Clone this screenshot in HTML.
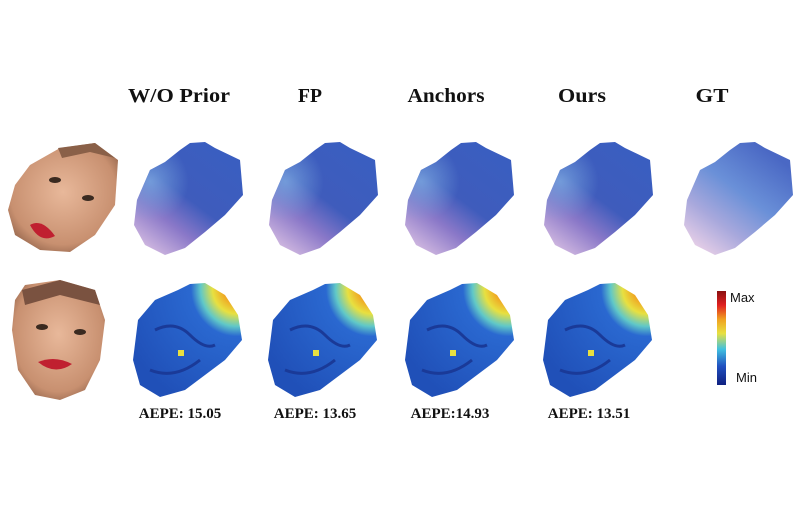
<!DOCTYPE html>
<html><head><meta charset="utf-8"><style>
html,body{margin:0;padding:0;background:#fff;}
svg{display:block;}
text{font-family:"Liberation Serif",serif;font-weight:bold;fill:#111;}
</style></head><body>
<svg width="795" height="530" viewBox="0 0 795 530">
<defs>
  <linearGradient id="flowA" x1="0.15" y1="1" x2="0.8" y2="0.1">
    <stop offset="0" stop-color="#d6bde2"/>
    <stop offset="0.3" stop-color="#8a78c8"/>
    <stop offset="0.55" stop-color="#3f5cbc"/>
    <stop offset="1" stop-color="#3a5ec0"/>
  </linearGradient>
  <radialGradient id="flowHi" cx="0.15" cy="0.35" r="0.35">
    <stop offset="0" stop-color="#7aa8e0" stop-opacity="0.8"/>
    <stop offset="1" stop-color="#7aa8e0" stop-opacity="0"/>
  </radialGradient>
  <linearGradient id="flowGT" x1="0.15" y1="1" x2="0.8" y2="0.1">
    <stop offset="0" stop-color="#ecd2e8"/>
    <stop offset="0.3" stop-color="#a8a8dc"/>
    <stop offset="0.6" stop-color="#6a90d8"/>
    <stop offset="1" stop-color="#4a68c4"/>
  </linearGradient>
  <radialGradient id="errG" cx="0.95" cy="0.05" r="1.1">
    <stop offset="0" stop-color="#e04020"/>
    <stop offset="0.1" stop-color="#f0a020"/>
    <stop offset="0.2" stop-color="#e8e040"/>
    <stop offset="0.3" stop-color="#60c8c8"/>
    <stop offset="0.38" stop-color="#2a68d0"/>
    <stop offset="1" stop-color="#2050b8"/>
  </radialGradient>
  <linearGradient id="cbar" x1="0" y1="0" x2="0" y2="1">
    <stop offset="0" stop-color="#8a1010"/>
    <stop offset="0.15" stop-color="#e02020"/>
    <stop offset="0.3" stop-color="#f0a020"/>
    <stop offset="0.45" stop-color="#e8e040"/>
    <stop offset="0.62" stop-color="#40c0e0"/>
    <stop offset="0.8" stop-color="#2050c0"/>
    <stop offset="1" stop-color="#102080"/>
  </linearGradient>
  <radialGradient id="skin" cx="0.5" cy="0.45" r="0.6">
    <stop offset="0" stop-color="#e8b89a"/>
    <stop offset="0.8" stop-color="#c89070"/>
    <stop offset="1" stop-color="#9a6a50"/>
  </radialGradient>
  <path id="flowShape" d="M180,150 L190,143 L205,142 L215,148 L240,160 L243,195 L225,215 L205,232 L185,248 L165,255 L145,245 L134,225 L137,200 L150,170 L165,162 Z"/>
  <path id="errShape" d="M178,290 L190,284 L205,283 L225,295 L238,315 L242,340 L225,360 L205,375 L185,390 L160,397 L140,385 L133,360 L138,320 L155,300 Z"/>
</defs>

<g font-size="20">
  <text x="179" y="102" text-anchor="middle" textLength="102" lengthAdjust="spacingAndGlyphs">W/O Prior</text>
  <text x="310" y="102" text-anchor="middle" textLength="24" lengthAdjust="spacingAndGlyphs">FP</text>
  <text x="446" y="102" text-anchor="middle" textLength="77" lengthAdjust="spacingAndGlyphs">Anchors</text>
  <text x="582" y="102" text-anchor="middle" textLength="48" lengthAdjust="spacingAndGlyphs">Ours</text>
  <text x="712" y="102" text-anchor="middle" textLength="33" lengthAdjust="spacingAndGlyphs">GT</text>
</g>

<g>
  <path d="M30,165 L60,148 L95,143 L118,160 L115,205 L95,235 L70,252 L40,250 L15,235 L8,210 L15,185 Z" fill="url(#skin)"/>
  <path d="M58,148 L95,143 L115,158 L90,152 L62,158 Z" fill="#8a6048"/>
  <ellipse cx="55" cy="180" rx="6" ry="3" fill="#3a2a20"/>
  <ellipse cx="88" cy="198" rx="6" ry="3" fill="#3a2a20"/>
  <path d="M30,225 Q42,218 55,236 Q40,244 30,225 Z" fill="#c02030"/>
</g>
<g>
  <path d="M25,285 L60,280 L95,290 L105,320 L100,360 L85,390 L60,400 L35,395 L18,370 L12,330 L15,300 Z" fill="url(#skin)"/>
  <path d="M22,290 L60,280 L95,290 L100,305 L60,295 L25,305 Z" fill="#7a5240"/>
  <ellipse cx="42" cy="327" rx="6" ry="3" fill="#3a2a20"/>
  <ellipse cx="80" cy="332" rx="6" ry="3" fill="#3a2a20"/>
  <path d="M38,362 Q55,355 72,364 Q55,376 38,362 Z" fill="#c02030"/>
</g>

<g>
  <g><use href="#flowShape" fill="url(#flowA)"/><use href="#flowShape" fill="url(#flowHi)"/></g>
  <g transform="translate(135,0)"><use href="#flowShape" fill="url(#flowA)"/><use href="#flowShape" fill="url(#flowHi)"/></g>
  <g transform="translate(271,0)"><use href="#flowShape" fill="url(#flowA)"/><use href="#flowShape" fill="url(#flowHi)"/></g>
  <g transform="translate(410,0)"><use href="#flowShape" fill="url(#flowA)"/><use href="#flowShape" fill="url(#flowHi)"/></g>
  <use href="#flowShape" transform="translate(550,0)" fill="url(#flowGT)"/>
</g>

<g>
  <g><use href="#errShape" fill="url(#errG)"/><path d="M155,330 Q175,320 190,335 Q205,350 215,345 M150,370 Q175,380 200,360" stroke="#1a3a98" stroke-width="3" fill="none"/><rect x="178" y="350" width="6" height="6" fill="#e8e040"/></g>
  <g transform="translate(135,0)"><use href="#errShape" fill="url(#errG)"/><path d="M155,330 Q175,320 190,335 Q205,350 215,345 M150,370 Q175,380 200,360" stroke="#1a3a98" stroke-width="3" fill="none"/><rect x="178" y="350" width="6" height="6" fill="#e8e040"/></g>
  <g transform="translate(272,0)"><use href="#errShape" fill="url(#errG)"/><path d="M155,330 Q175,320 190,335 Q205,350 215,345 M150,370 Q175,380 200,360" stroke="#1a3a98" stroke-width="3" fill="none"/><rect x="178" y="350" width="6" height="6" fill="#e8e040"/></g>
  <g transform="translate(410,0)"><use href="#errShape" fill="url(#errG)"/><path d="M155,330 Q175,320 190,335 Q205,350 215,345 M150,370 Q175,380 200,360" stroke="#1a3a98" stroke-width="3" fill="none"/><rect x="178" y="350" width="6" height="6" fill="#e8e040"/></g>
</g>

<g>
  <rect x="717" y="291" width="9" height="94" fill="url(#cbar)"/>
  <text x="730" y="302" font-size="13" style="font-family:'Liberation Sans',sans-serif;font-weight:normal">Max</text>
  <text x="736" y="382" font-size="13" style="font-family:'Liberation Sans',sans-serif;font-weight:normal">Min</text>
</g>

<g id="aepe" font-size="15"></g>
<script>
const aepeLabels = ["AEPE: 15.05", "AEPE: 13.65", "AEPE:14.93", "AEPE: 13.51"];
const aepeNames = ["aepe-wo-prior", "aepe-fp", "aepe-anchors", "aepe-ours"];
const aepeCenters = [180, 315, 450, 589];
const g = document.getElementById('aepe');
aepeLabels.forEach((s, i) => {
  const t = document.createElementNS('http://www.w3.org/2000/svg', 'text');
  t.setAttribute('x', aepeCenters[i]);
  t.setAttribute('y', 418);
  t.setAttribute('text-anchor', 'middle');
  
  
  t.textContent = s;
  g.appendChild(t);
});
</script>
</svg>
</body></html>
